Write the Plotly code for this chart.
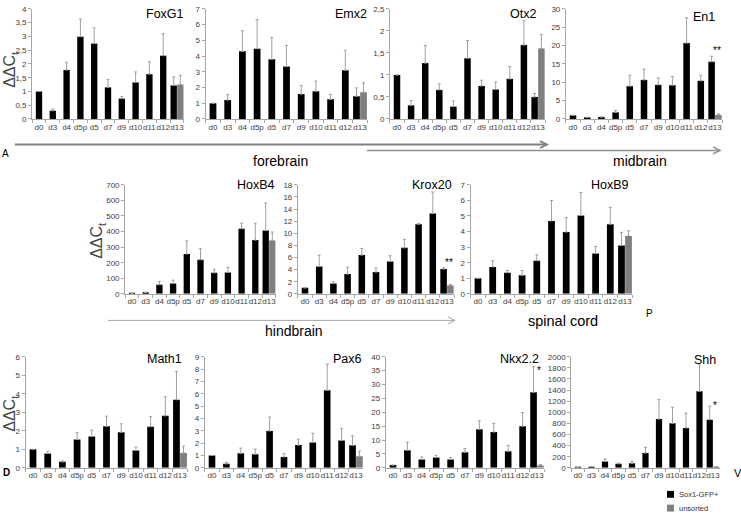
import plotly.graph_objects as go

# ---------------- data ----------------
days = ["d0", "d3", "d4", "d5p", "d5", "d7", "d9", "d10", "d11", "d12", "d13"]

foxg1 = [1.0, 0.30, 1.78, 2.99, 2.74, 1.15, 0.74, 1.33, 1.63, 2.30, 1.22]
foxg1_err = [0, 0.06, 0.28, 0.64, 0.57, 0.28, 0.08, 0.38, 0.45, 0.80, 0.31]
foxg1_uns, foxg1_uns_err = 1.25, 0.34

emx2 = [1.0, 1.2, 4.3, 4.47, 3.8, 3.33, 1.58, 1.77, 1.25, 3.1, 1.45]
emx2_err = [0, 0.35, 1.31, 1.85, 1.38, 1.35, 0.54, 0.64, 0.31, 1.27, 0.52]
emx2_uns, emx2_uns_err = 1.7, 0.6

otx2 = [1.0, 0.31, 1.27, 0.66, 0.28, 1.38, 0.75, 0.67, 0.91, 1.68, 0.5]
otx2_err = [0, 0.11, 0.40, 0.14, 0.13, 0.40, 0.13, 0.17, 0.28, 0.55, 0.08]
otx2_uns, otx2_uns_err = 1.6, 0.32

en1 = [1.0, 0.45, 0.55, 1.8, 8.95, 10.65, 9.3, 9.2, 20.7, 10.4, 15.6]
en1_err = [0, 0, 0, 0.5, 2.95, 2.95, 1.9, 2.4, 6.9, 1.5, 1.5]
en1_uns, en1_uns_err = 1.1, 0.3

hoxb4 = [3, 10, 59, 67, 256, 219, 135, 137, 418, 345, 406]
hoxb4_err = [0, 0, 21, 21, 84, 71, 23, 33, 36, 109, 178]
hoxb4_uns, hoxb4_uns_err = 343, 54

krox20 = [1.0, 4.5, 1.7, 3.26, 6.4, 3.6, 5.35, 7.6, 11.5, 13.25, 4.1]
krox20_err = [0, 1.9, 0.3, 1.14, 1.1, 0.7, 0.95, 1.4, 0.1, 3.55, 0.2]
krox20_uns, krox20_uns_err = 1.4, 0.15

hoxb9 = [1.0, 1.73, 1.36, 1.19, 2.13, 4.68, 3.97, 5.03, 2.59, 4.47, 3.11]
hoxb9_err = [0, 0.40, 0.14, 0.31, 0.37, 1.31, 0.92, 1.48, 0.46, 1.08, 0.84]
hoxb9_uns, hoxb9_uns_err = 3.72, 0.33

math1 = [1.0, 0.77, 0.32, 1.53, 1.69, 2.24, 1.92, 0.94, 2.22, 2.81, 3.68]
math1_err = [0, 0.12, 0.05, 0.37, 0.34, 0.55, 0.46, 0.18, 0.54, 1.03, 1.52]
math1_uns, math1_uns_err = 0.8, 0.37

pax6 = [1.0, 0.32, 1.17, 1.1, 2.99, 0.88, 1.84, 2.06, 6.28, 2.22, 1.82]
pax6_err = [0, 0.13, 0.43, 0.42, 1.12, 0.27, 0.48, 0.74, 2.13, 0.98, 0.77]
pax6_uns, pax6_uns_err = 0.93, 0.41

nkx22 = [1.0, 6.3, 3.0, 3.7, 3.0, 5.6, 13.85, 12.9, 5.97, 15.0, 27.2]
nkx22_err = [0, 2.9, 0.9, 0.8, 0.7, 1.3, 3.1, 3.1, 2.03, 4.9, 9.2]
nkx22_uns, nkx22_uns_err = 0.84, 0.36

shh = [5, 20, 113, 71, 83, 267, 878, 801, 718, 1377, 866]
shh_err = [0, 0, 47, 12, 30, 101, 350, 291, 267, 492, 244]
shh_uns, shh_uns_err = 18, 0

# tick labels
ticks_foxg1 = ["0", "0,5", "1", "1,5", "2", "2,5", "3", "3,5", "4"]
ticks_emx2 = ["0", "1", "2", "3", "4", "5", "6", "7"]
ticks_otx2 = ["0", "0,5", "1", "1,5", "2", "2,5"]
ticks_en1 = ["0", "5", "10", "15", "20", "25", "30"]
ticks_hoxb4 = ["0", "100", "200", "300", "400", "500", "600", "700"]
ticks_krox20 = ["0", "2", "4", "6", "8", "10", "12", "14", "16", "18"]
ticks_hoxb9 = ["0", "1", "2", "3", "4", "5", "6", "7"]
ticks_math1 = ["0", "1", "2", "3", "4", "5", "6"]
ticks_pax6 = ["0", "1", "2", "3", "4", "5", "6", "7", "8", "9"]
ticks_nkx22 = ["0", "5", "10", "15", "20", "25", "30", "35", "40"]
ticks_shh = ["0", "200", "400", "600", "800", "1000", "1200", "1400", "1600", "1800", "2000"]

# significance marks: (panel title, label, y value)
sig_marks = [("En1", "**", 18.8), ("Krox20", "**", 5.1), ("Nkx2.2", "*", 35.0), ("Shh", "*", 1130)]

# ---------------- layout geometry (pixels) ----------------
W, H = 741, 518
def fx(p): return p / W
def fy(p): return 1 - p / H

FONT = "Liberation Sans, Arial, sans-serif"

panels = [
    # title, values, errors, unsorted, unsorted err, ticktext, d0 px, d13 px, top px, bottom px, title right px, title y px
    ("FoxG1", foxg1, foxg1_err, foxg1_uns, foxg1_uns_err, ticks_foxg1, 39, 177, 5, 117, 186, 10),
    ("Emx2", emx2, emx2_err, emx2_uns, emx2_uns_err, ticks_emx2, 213, 360, 5, 117, 369, 10),
    ("Otx2", otx2, otx2_err, otx2_uns, otx2_uns_err, ticks_otx2, 397, 538, 5, 117, 538, 10),
    ("En1", en1, en1_err, en1_uns, en1_uns_err, ticks_en1, 573, 715, 5, 117, 717, 13),
    ("HoxB4", hoxb4, hoxb4_err, hoxb4_uns, hoxb4_uns_err, ticks_hoxb4, 132, 269, 184, 295, 277, 184),
    ("Krox20", krox20, krox20_err, krox20_uns, krox20_uns_err, ticks_krox20, 305, 447, 184, 295, 454, 184),
    ("HoxB9", hoxb9, hoxb9_err, hoxb9_uns, hoxb9_uns_err, ticks_hoxb9, 478, 625, 184, 295, 631, 184),
    ("Math1", math1, math1_err, math1_uns, math1_uns_err, ticks_math1, 33, 180, 359, 472, 184, 361),
    ("Pax6", pax6, pax6_err, pax6_uns, pax6_uns_err, ticks_pax6, 212, 356, 359, 472, 364, 361),
    ("Nkx2.2", nkx22, nkx22_err, nkx22_uns, nkx22_uns_err, ticks_nkx22, 393, 537, 359, 472, 541, 361),
    ("Shh", shh, shh_err, shh_uns, shh_uns_err, ticks_shh, 578, 713, 359, 472, 718, 362),
]

fig = go.Figure()
layout = dict(
    width=W, height=H, margin=dict(l=0, r=0, t=0, b=0),
    paper_bgcolor="white", plot_bgcolor="white",
    showlegend=False, barmode="overlay",
    font=dict(family=FONT, color="#333"),
)
annotations = []
shapes = []

AX_COL = "#a6a6a6"
ERR_COL = "#a0a0a0"
TICK_FONT = dict(size=8, color="#404040", family=FONT)

for i, (title, vals, errs, uns, uns_err, tt, d0, d13, top, bot, tr, ty) in enumerate(panels, start=1):
    xa = "x" if i == 1 else f"x{i}"
    ya = "y" if i == 1 else f"y{i}"
    n = len(days)
    offs = [-0.23] * (n - 1) + [-0.47]
    wids = [0.46] * n
    fig.add_trace(go.Bar(
        x=days, y=vals, xaxis=xa, yaxis=ya,
        marker=dict(color="black", line=dict(width=0)),
        offset=offs, width=wids,
        error_y=dict(type="data", array=errs, arrayminus=[0] * n, symmetric=False,
                     color=ERR_COL, thickness=1, width=1.5),
        name="Sox1-GFP+", hoverinfo="x+y",
    ))
    fig.add_trace(go.Bar(
        x=[days[-1]], y=[uns], xaxis=xa, yaxis=ya,
        marker=dict(color="#7f7f7f", line=dict(width=0)),
        offset=[0.01], width=[0.46],
        error_y=dict(type="data", array=[uns_err], arrayminus=[0], symmetric=False,
                     color=ERR_COL, thickness=1, width=1.5),
        name="unsorted", hoverinfo="x+y",
    ))
    sp = (d13 - d0) / 10
    left, right = d0 - sp / 2, d13 + sp / 2
    ymax = float(tt[-1].replace(",", "."))
    step = float(tt[1].replace(",", "."))
    tv = [k * step for k in range(len(tt))]
    kx = "xaxis" if i == 1 else f"xaxis{i}"
    ky = "yaxis" if i == 1 else f"yaxis{i}"
    layout[kx] = dict(
        domain=[fx(left), fx(right)], anchor=ya, type="category",
        categoryorder="array", categoryarray=days, range=[-0.5, 10.5],
        showline=True, linecolor=AX_COL, linewidth=1,
        ticks="outside", tickson="boundaries", ticklen=3, tickcolor=AX_COL,
        tickfont=TICK_FONT, tickangle=0,
        showgrid=False, zeroline=False, fixedrange=True,
    )
    layout[ky] = dict(
        domain=[fy(bot), fy(top)], anchor=xa, range=[0, ymax],
        tickvals=tv, ticktext=tt,
        showline=True, linecolor=AX_COL, linewidth=1,
        ticks="outside", ticklen=3, tickcolor=AX_COL,
        tickfont=TICK_FONT,
        showgrid=False, zeroline=False, fixedrange=True,
    )
    annotations.append(dict(
        text=title, x=fx(tr), y=fy(ty), xref="paper", yref="paper",
        xanchor="right", yanchor="middle", showarrow=False,
        font=dict(size=12.5, color="black", family=FONT),
    ))
    for (st, lab, yv) in sig_marks:
        if st == title:
            annotations.append(dict(
                text=lab, x=days[-1], y=yv, xref=xa, yref=ya, xshift=2,
                xanchor="center", yanchor="middle", showarrow=False,
                font=dict(size=10, color="black", family=FONT),
            ))

# y-axis labels
for (px, py) in [(11, 67), (98, 241), (11, 417)]:
    annotations.append(dict(
        text="ΔΔC<sub>t</sub>", x=fx(px), y=fy(py), xref="paper", yref="paper",
        textangle=-90, showarrow=False, xanchor="center", yanchor="middle",
        font=dict(size=16, color="#444", family=FONT),
    ))

# region texts
def txt(t, px, py, size, bold=False, anchor="center"):
    annotations.append(dict(
        text=f"<b>{t}</b>" if bold else t, x=fx(px), y=fy(py), xref="paper", yref="paper",
        showarrow=False, xanchor=anchor, yanchor="middle",
        font=dict(size=size, color="black", family=FONT),
    ))

txt("A", 5, 152, 10)
txt("forebrain", 280, 160, 14)
txt("midbrain", 640, 160, 14)
txt("hindbrain", 294, 333, 14)
txt("spinal cord", 563, 323, 14.5)
txt("P", 649, 315, 10)
txt("D", 6, 477, 10, bold=True)
txt("V", 738, 477, 11)

# arrows
def arrow(x0, x1, y, color, width):
    shapes.append(dict(type="line", xref="paper", yref="paper",
                       x0=fx(x0), x1=fx(x1), y0=fy(y), y1=fy(y),
                       line=dict(color=color, width=width)))
    shapes.append(dict(type="path", xref="paper", yref="paper",
                       path=f"M {fx(x1-7)} {fy(y-3.5)} L {fx(x1)} {fy(y)} L {fx(x1-7)} {fy(y+3.5)}",
                       line=dict(color=color, width=width)))

arrow(15, 547, 143, "#808080", 1.8)
arrow(367, 720, 149, "#909090", 1.5)
arrow(108, 455, 322, "#a6a6a6", 1)

# legend (manual)
for (lab, col, py) in [("Sox1-GFP+", "black", 499), ("unsorted", "#7f7f7f", 513)]:
    shapes.append(dict(type="rect", xref="paper", yref="paper",
                       x0=fx(667), x1=fx(674), y0=fy(py - 3.5), y1=fy(py + 3.5),
                       fillcolor=col, line=dict(width=0)))
    annotations.append(dict(text=lab, x=fx(677), y=fy(py), xref="paper", yref="paper",
                            xanchor="left", yanchor="middle", showarrow=False,
                            font=dict(size=7.5, color="#333", family=FONT)))

layout["annotations"] = annotations
layout["shapes"] = shapes
fig.update_layout(**layout)

fig.write_html("out.html", config={"displayModeBar": False},
               post_script="document.body.style.margin='0';document.body.style.overflow='hidden';")
